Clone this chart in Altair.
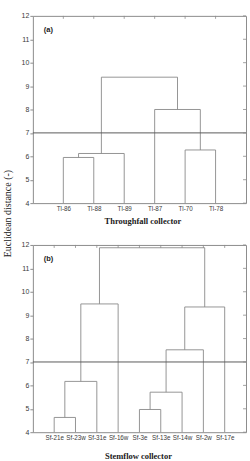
import json

import altair as alt
import pandas as pd

# Panel (a): throughfall collectors, listed in dendrogram leaf order
tf_leaves = ["Tl-86", "Tl-88", "Tl-89", "Tl-87", "Tl-70", "Tl-78"]
# Each merge joins two members (leaf names or earlier merges "m<k>") at a linkage distance
tf_merges = [
    ("Tl-86", "Tl-88", 5.95),
    ("m0", "Tl-89", 6.12),
    ("Tl-70", "Tl-78", 6.27),
    ("Tl-87", "m2", 8.0),
    ("m1", "m3", 9.38),
]

# Panel (b): stemflow collectors
sf_leaves = ["Sf-21e", "Sf-23w", "Sf-31e", "Sf-16w", "Sf-3e",
             "Sf-13e", "Sf-14w", "Sf-2w", "Sf-17e"]
sf_merges = [
    ("Sf-21e", "Sf-23w", 4.63),
    ("m0", "Sf-31e", 6.17),
    ("m1", "Sf-16w", 9.48),
    ("Sf-3e", "Sf-13e", 4.97),
    ("m3", "Sf-14w", 5.71),
    ("m4", "Sf-2w", 7.52),
    ("m5", "Sf-17e", 9.35),
    ("m2", "m6", 11.88),
]

threshold = 7.0
y_ticks = [4, 5, 6, 7, 8, 9, 10, 11, 12]
y_title = "Euclidean distance (-)"

W, H = 214, 188
LINE = "#8a8a8a"
FRAME = "#8c8c8c"
TEXT = "#3a3a3a"


def dendrogram_segments(leaves, merges, base):
    """Expand merges into the vertical/horizontal pieces of a dendrogram."""
    pos = {name: (i + 1, base) for i, name in enumerate(leaves)}
    rows = []
    for k, (a, b, h) in enumerate(merges):
        xa, ya = pos[a]
        xb, yb = pos[b]
        rows.append(dict(x=xa, x2=xa, y=ya, y2=h))
        rows.append(dict(x=xb, x2=xb, y=yb, y2=h))
        rows.append(dict(x=xa, x2=xb, y=h, y2=h))
        pos[f"m{k}"] = ((xa + xb) / 2, h)
    return pd.DataFrame(rows)


def panel(leaves, merges, tag, x_title, title_x, title_y, with_y_title):
    n = len(leaves)
    xs = alt.Scale(domain=[0, n + 1], nice=False, zero=False)
    ys = alt.Scale(domain=[y_ticks[0], y_ticks[-1]], nice=False, zero=False)

    x_axis = alt.Axis(
        values=list(range(1, n + 1)),
        labelExpr=f"{json.dumps(leaves)}[datum.value - 1]",
        title=x_title, titleX=title_x, titleY=title_y,
        titleAlign="center", titleBaseline="middle",
        titleFont="Liberation Serif", titleFontSize=8.5, titleFontWeight="bold",
        titleColor="#1a1a1a",
        labelFont="Liberation Sans", labelFontSize=6.3, labelColor=TEXT,
        labelPadding=2, labelOverlap=False, labelFlush=False,
        ticks=False, domain=False, grid=False,
    )
    y_kwargs = dict(
        values=y_ticks, labelFont="Liberation Sans", labelFontSize=7,
        labelColor=TEXT, labelPadding=1, labelOverlap=False, labelFlush=False,
        tickSize=3, tickColor=FRAME, domain=False, grid=False,
    )
    if with_y_title:
        y_kwargs.update(
            title=y_title, titleX=-25.5, titleY=198, titleAngle=270,
            titleAlign="center", titleBaseline="middle",
            titleFont="Liberation Serif", titleFontSize=10,
            titleFontWeight="normal", titleColor="#1a1a1a",
        )
    else:
        y_kwargs.update(title=None)
    y_axis = alt.Axis(**y_kwargs)

    def X(field):
        return alt.X(field, type="quantitative", scale=xs, axis=x_axis)

    def Y(field):
        return alt.Y(field, type="quantitative", scale=ys, axis=y_axis)

    segs = dendrogram_segments(leaves, merges, y_ticks[0])
    links = alt.Chart(segs).mark_rule(color=LINE, strokeWidth=0.9).encode(
        x=X("x"), x2="x2:Q", y=Y("y"), y2="y2:Q",
    )

    cut = alt.Chart(pd.DataFrame({"y": [threshold]})).mark_rule(
        color="#5a5a5a", strokeWidth=1
    ).encode(y=Y("y"))

    # inward ticks on the top edge (leaf positions) and right edge (y ticks)
    top_ticks = alt.Chart(pd.DataFrame({"x": list(range(1, n + 1))})).mark_rule(
        color=FRAME, strokeWidth=0.8
    ).encode(x=X("x"), y=alt.value(0), y2=alt.value(3))
    right_ticks = alt.Chart(pd.DataFrame({"y": y_ticks})).mark_rule(
        color=FRAME, strokeWidth=0.8
    ).encode(y=Y("y"), x=alt.value(W), x2=alt.value(W - 3))

    label = alt.Chart(pd.DataFrame({"t": [tag]})).mark_text(
        align="left", baseline="middle", font="Liberation Sans",
        fontSize=7.5, fontWeight="bold", color="#222"
    ).encode(text="t:N", x=alt.value(11), y=alt.value(14))

    return alt.layer(links, cut, top_ticks, right_ticks, label).properties(
        width=W, height=H
    )


top = panel(tf_leaves, tf_merges, "(a)", "Throughfall collector", 110, 17, True)
bottom = panel(sf_leaves, sf_merges, "(b)", "Stemflow collector", 105.5, 23, False)

chart = (
    alt.vconcat(top, bottom, spacing=42, bounds="flush")
    .properties(padding={"left": 2, "top": 10, "right": 3, "bottom": 2},
                background="white")
    .configure_view(stroke=FRAME, strokeWidth=1)
)

chart.save("out.html", embed_options={"renderer": "svg", "actions": False})
